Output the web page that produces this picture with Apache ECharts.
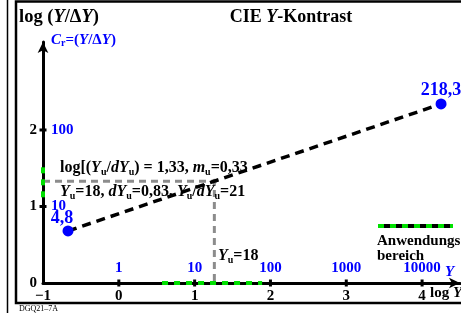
<!DOCTYPE html>
<html>
<head>
<meta charset="utf-8">
<script src="https://cdn.jsdelivr.net/npm/echarts@6/dist/echarts.min.js"></script>
<style>
  html, body { margin: 0; padding: 0; background: #fff; }
  #chart { width: 461px; height: 313px; }
</style>
</head>
<body>
<div id="chart"></div>
<script>
// Daten: log Y gegen log (Y/dY)
const logY = [-0.67, 4.25]
const logCr = [0.68, 2.34]
const crLabels = ['4,8', '218,3']
const xTicks = [-1, 0, 1, 2, 3, 4]
const yTicks = [0, 1, 2]
// Umfeld Yu=18 -> log 1,26 ; log(Yu/dYu)=1,33
const refLogY = [-1, 1.26, 1.26]
const refLogCr = [1.33, 1.33, 0]
// Anwendungsbereich
const rangeX = [0.57, 1.89]
const rangeY = [1.12, 1.54]

const SERIF = "'Liberation Serif', 'DejaVu Serif', serif"
const BLUE = '#0000ff'
const GREEN = '#00e000'

let chart = echarts.init(document.getElementById('chart'))

function richStyle(size, color) {
  let sub = Math.round(size * 0.65)
  return {
    b: { fontFamily: SERIF, fontWeight: 'bold', fontSize: size, fill: color, lineHeight: size + 2 },
    i: { fontFamily: SERIF, fontWeight: 'bold', fontStyle: 'italic', fontSize: size, fill: color, lineHeight: size + 2 },
    s: { fontFamily: SERIF, fontWeight: 'bold', fontSize: sub, fill: color, lineHeight: sub, verticalAlign: 'bottom' }
  }
}
function rtext(x, y, text, size, color, align) {
  return {
    type: 'text', x: x, y: y, z: 20,
    style: { text: text, rich: richStyle(size, color || '#000'), fill: color || '#000', align: align || 'left', verticalAlign: 'middle' }
  }
}

let option = {
  animation: false,
  grid: { left: 43, right: 1, top: 42, bottom: 30 },
  xAxis: [
    {
      type: 'value', min: -1, max: 4.5, interval: 1,
      splitLine: { show: false },
      axisLine: { onZero: false, symbol: ['none', 'arrow'], symbolSize: [8, 11], lineStyle: { color: '#000', width: 3 } },
      axisTick: { show: false },
      axisLabel: {
        margin: 6, color: '#000', fontFamily: SERIF, fontWeight: 'bold', fontSize: 15,
        showMaxLabel: false,
        formatter: function (v) {
          if (!Number.isInteger(v)) return ''
          return v < 0 ? '\u2212' + (-v) : String(v)
        }
      }
    },
    {
      type: 'value', min: -1, max: 4.5, interval: 1, position: 'bottom', offset: 0,
      splitLine: { show: false }, axisLine: { show: false }, axisTick: { show: false },
      axisLabel: {
        inside: true, margin: 7, color: BLUE, fontFamily: SERIF, fontWeight: 'bold', fontSize: 15,
        showMaxLabel: false,
        formatter: function (v) {
          return (Number.isInteger(v) && v >= 0) ? String(Math.pow(10, v)) : ''
        }
      }
    }
  ],
  yAxis: [
    {
      type: 'value', min: 0, max: 3.15, interval: 1,
      splitLine: { show: false },
      axisLine: { onZero: false, symbol: ['none', 'arrow'], symbolSize: [8, 11], lineStyle: { color: '#000', width: 3 } },
      axisTick: { show: false },
      axisLabel: {
        margin: 6, color: '#000', fontFamily: SERIF, fontWeight: 'bold', fontSize: 15,
        showMaxLabel: false,
        formatter: function (v) { return (Number.isInteger(v) && v <= 2) ? String(v) : '' }
      }
    },
    {
      type: 'value', min: 0, max: 3.15, interval: 1, position: 'left', offset: 0,
      splitLine: { show: false }, axisLine: { show: false }, axisTick: { show: false },
      axisLabel: {
        inside: true, margin: 8, color: BLUE, fontFamily: SERIF, fontWeight: 'bold', fontSize: 15,
        showMaxLabel: false,
        formatter: function (v) { return (Number.isInteger(v) && v >= 1 && v <= 2) ? String(Math.pow(10, v)) : '' }
      }
    }
  ],
  series: [
    // Anwendungsbereich auf den Achsen
    {
      type: 'line', z: 5, silent: true, symbol: 'none',
      lineStyle: { color: GREEN, width: 4, type: [6, 6], cap: 'butt' },
      data: rangeX.map(function (v) { return [v, 0] })
    },
    {
      type: 'line', z: 5, silent: true, symbol: 'none',
      lineStyle: { color: GREEN, width: 4, type: [6, 6], cap: 'butt' },
      data: rangeY.map(function (v) { return [-1, v] })
    },
    // Tick-Marken
    {
      type: 'scatter', z: 6, silent: true, symbol: 'rect', symbolSize: [3, 7],
      itemStyle: { color: '#000', opacity: 1 },
      data: xTicks.slice(1).map(function (v) { return [v, 0] })
    },
    {
      type: 'scatter', z: 6, silent: true, symbol: 'rect', symbolSize: [7, 3],
      itemStyle: { color: '#000', opacity: 1 },
      data: yTicks.slice(1).map(function (v) { return [-1, v] })
    },
    // graue Hilfslinien
    {
      type: 'line', z: 4, silent: true, symbol: 'none',
      lineStyle: { color: '#8c8c8c', width: 3, type: [7, 5], cap: 'butt' },
      data: refLogY.map(function (v, i) { return [v, refLogCr[i]] })
    },
    {
      type: 'scatter', z: 4, silent: true, symbolSize: 5,
      itemStyle: { color: '#8c8c8c', opacity: 1 },
      data: [[refLogY[1], refLogCr[1]]]
    },
    // Kontrastgerade
    {
      type: 'line', z: 8, silent: true, symbol: 'none',
      lineStyle: { color: '#000', width: 3.5, type: [9, 6], cap: 'butt' },
      data: logY.map(function (v, i) { return [v, logCr[i]] })
    },
    {
      type: 'scatter', z: 9, silent: true, symbolSize: 11,
      itemStyle: { color: BLUE, opacity: 1 },
      label: {
        show: true, position: 'top', distance: 0, color: BLUE,
        fontFamily: SERIF, fontWeight: 'bold', fontSize: 18,
        formatter: function (p) { return crLabels[p.dataIndex] }
      },
      data: logY.map(function (v, i) {
        let d = { value: [v, logCr[i]] }
        d.label = i === 0 ? { offset: [-6, 2] } : { offset: [0, 1] }
        return d
      })
    }
  ],
  graphic: [
    // Rahmen
    { type: 'line', z: 30, shape: { x1: 7.5, y1: 0, x2: 7.5, y2: 313 }, style: { stroke: '#000', lineWidth: 1.5 } },
    { type: 'rect', z: 30, shape: { x: 16, y: 1.5, width: 460, height: 301.5 }, style: { fill: null, stroke: '#000', lineWidth: 2.5 } },
    rtext(19, 17, '{b|log (}{i|Y}{b|/\u0394}{i|Y}{b|)}', 18.5),
    rtext(291, 17, '{b|CIE }{i|Y}{b|-Kontrast}', 18, '#000', 'center'),
    rtext(51, 40, '{i|C}{s|r}{b|=(}{i|Y}{b|/\u0394}{i|Y}{b|)}', 15, BLUE),
    rtext(60, 168, '{b|log[(}{i|Y}{s|u}{b|/}{i|dY}{s|u}{b|) = 1,33, }{i|m}{s|u}{b|=0,33}', 16),
    rtext(60, 192, '{i|Y}{s|u}{b|=18, }{i|dY}{s|u}{b|=0,83, }{i|Y}{s|u}{b|/}{i|dY}{s|u}{b|=21}', 16),
    rtext(218, 256, '{i|Y}{s|u}{b|=18}', 16),
    rtext(377, 241, '{b|Anwendungs}', 15),
    rtext(377, 256, '{b|bereich}', 15),
    rtext(445, 272, '{i|Y}', 15, BLUE),
    rtext(430, 293, '{b|log }{i|Y}', 15),
    { type: 'text', x: 19, y: 309, z: 20, style: { text: 'DGQ21\u20137A', fontFamily: SERIF, fontSize: 8, fill: '#000', verticalAlign: 'middle' } },
    // Legende Anwendungsbereich
    { type: 'line', z: 20, shape: { x1: 378, y1: 226, x2: 453, y2: 226 }, style: { stroke: '#000', lineWidth: 4 } },
    { type: 'line', z: 21, shape: { x1: 378, y1: 226, x2: 453, y2: 226 }, style: { stroke: GREEN, lineWidth: 4, lineDash: [6, 6] } }
  ]
}

chart.setOption(option)
</script>
</body>
</html>
